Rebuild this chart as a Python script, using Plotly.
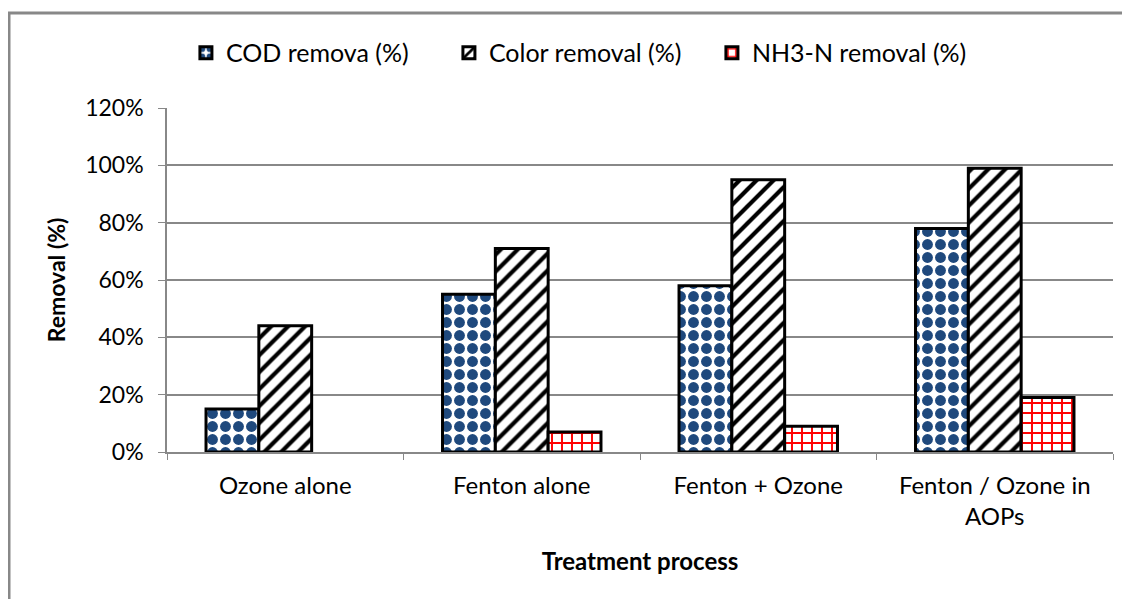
"""
Removal efficiency by treatment process, grouped bars with hatch patterns.
"""

import plotly.graph_objects as go

processes = ["Ozone alone", "Fenton alone", "Fenton + Ozone", "Fenton / Ozone in<br>AOPs"]
cod_removal = [0.15, 0.55, 0.58, 0.78]
color_removal = [0.44, 0.71, 0.95, 0.99]
nh3n_removal = [None, 0.07, 0.09, 0.19]  # no bar shown for ozone alone

y_ticks = [0, 0.2, 0.4, 0.6, 0.8, 1.0, 1.2]

FONT = "Lato, 'Open Sans', sans-serif"

fig = go.Figure()

fig.add_trace(go.Bar(
    name="COD remova (%)",
    x=processes,
    y=cod_removal,
    marker=dict(
        color="white",
        line=dict(color="black", width=3),
        pattern=dict(shape=".", fgcolor="#1f497d", bgcolor="white", fgopacity=1,
                     size=13, solidity=0.55, fillmode="overlay"),
    ),
))
fig.add_trace(go.Bar(
    name="Color removal (%)",
    x=processes,
    y=color_removal,
    marker=dict(
        color="white",
        line=dict(color="black", width=3),
        pattern=dict(shape="/", fgcolor="black", bgcolor="white", fgopacity=1,
                     size=12, solidity=0.35, fillmode="overlay"),
    ),
))
fig.add_trace(go.Bar(
    name="NH3-N removal (%)",
    x=processes,
    y=nh3n_removal,
    marker=dict(
        color="white",
        line=dict(color="black", width=3),
        pattern=dict(shape="+", fgcolor="red", bgcolor="white", fgopacity=1,
                     size=10, solidity=0.35, fillmode="overlay"),
    ),
))

fig.update_layout(
    width=1130,
    height=599,
    barmode="group",
    bargap=0.33,
    bargroupgap=0,
    paper_bgcolor="white",
    plot_bgcolor="white",
    margin=dict(l=159, r=25, t=100, b=155),
    font=dict(family=FONT, size=22, color="black"),
    showlegend=True,
    legend=dict(
        orientation="h",
        x=0.02, xanchor="left",
        y=1.16, yanchor="middle",
        font=dict(size=25),
        entrywidth=218, entrywidthmode="pixels",
        traceorder="normal",
    ),
    xaxis=dict(
        title=dict(text="<b>Treatment process</b>", font=dict(size=24), standoff=24),
        showline=True, linecolor="#888888", linewidth=1.5,
        ticks="outside", tickson="boundaries", ticklen=6, tickcolor="#888888",
        ticklabelstandoff=11,
        showgrid=False,
        tickfont=dict(size=24),
    ),
    yaxis=dict(
        title=dict(text="<b>Removal (%)</b>", font=dict(size=23), standoff=13),
        range=[0, 1.2],
        tickvals=y_ticks,
        tickformat=".0%",
        showline=True, linecolor="#888888", linewidth=1.5,
        ticks="outside", ticklen=7, tickcolor="#888888",
        ticklabelstandoff=10,
        showgrid=True, gridcolor="#888888", gridwidth=1.5,
        zeroline=False,
        tickfont=dict(size=23),
    ),
    shapes=[
        dict(type="line", xref="paper", yref="paper",
             x0=-159 / 946, x1=1.1,
             y0=(344 + 95) / 344, y1=(344 + 95) / 344,
             line=dict(color="#888888", width=3)),
        dict(type="line", xref="paper", yref="paper",
             x0=-158 / 946, x1=-158 / 946,
             y0=(344 + 95) / 344, y1=-0.5,
             line=dict(color="#888888", width=3)),
    ],
)

fig.write_html("out.html")
